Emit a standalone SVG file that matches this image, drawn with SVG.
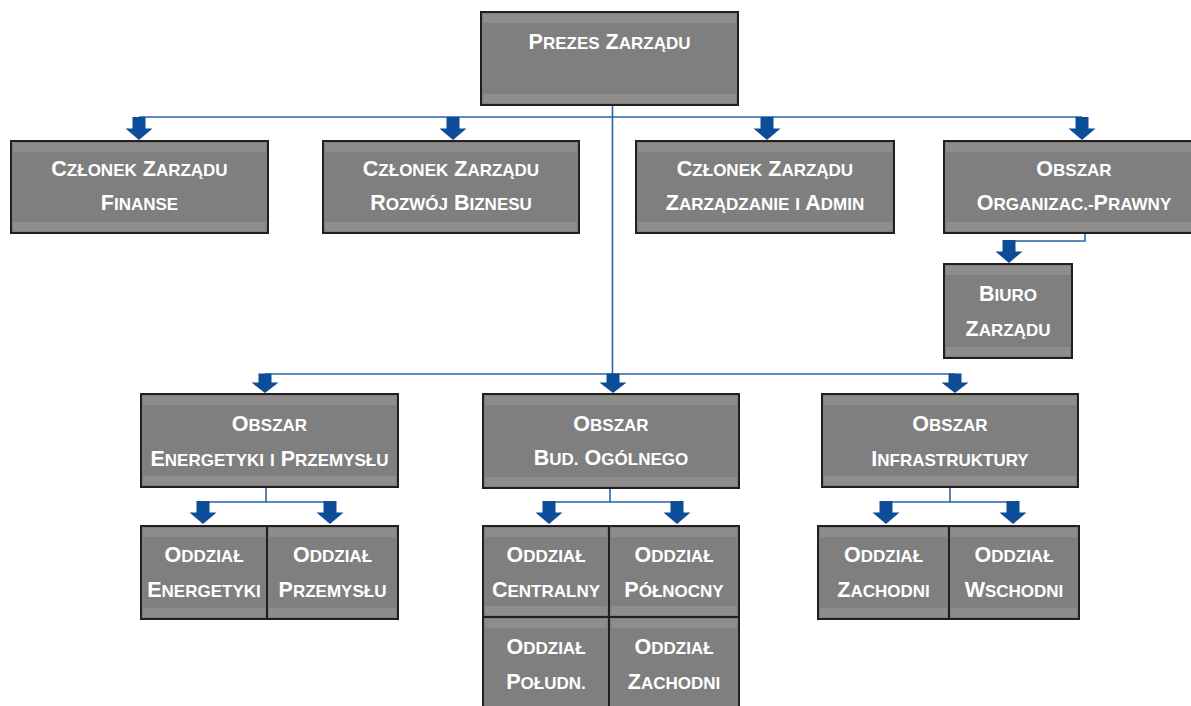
<svg xmlns="http://www.w3.org/2000/svg" width="1191" height="706" viewBox="0 0 1191 706">
<style>
.box{fill:#7f7f80;stroke:#231f20;stroke-width:2}
.band{fill:#8f8c8c}
.t{font-family:"Liberation Sans",Arial,sans-serif;font-weight:bold;fill:#ffffff;text-anchor:middle;font-size:21.5px}
.c{font-size:21.5px}
.s{font-size:17px}
.ln{fill:none;stroke:#2a63a8;stroke-width:1.6}
.ar{fill:#0d4c96}
</style>
<defs>
<path id="arA" class="ar" d="M0,0 L-13.5,-11.5 L-6.5,-11.5 L-6.5,-23 L6.5,-23 L6.5,-11.5 L13.5,-11.5 Z"/>
<path id="arB" class="ar" d="M0,0 L-13.5,-10.5 L-6.5,-10.5 L-6.5,-19.5 L6.5,-19.5 L6.5,-10.5 L13.5,-10.5 Z"/>
</defs>
<rect width="1191" height="706" fill="#ffffff"/>

<g id="connectors">
<path class="ln" d="M612.5,105 V374"/>
<path class="ln" d="M139,117 H1082"/>
<path class="ln" d="M1085,233 V241 H1009"/>
<path class="ln" d="M265,374 H955"/>
<path class="ln" d="M266,487 V502 M203,502 H330"/>
<path class="ln" d="M610,488 V502 M549,502 H677"/>
<path class="ln" d="M950,487 V502 M886,502 H1013"/>
<use href="#arA" x="139" y="140"/>
<use href="#arA" x="453" y="140"/>
<use href="#arA" x="767" y="140"/>
<use href="#arA" x="1082" y="140"/>
<use href="#arA" x="1009" y="263"/>
<use href="#arB" x="265" y="393"/>
<use href="#arB" x="613" y="393"/>
<use href="#arB" x="955" y="393"/>
<use href="#arA" x="203" y="524"/>
<use href="#arA" x="330" y="524"/>
<use href="#arA" x="549" y="524"/>
<use href="#arA" x="677" y="524"/>
<use href="#arA" x="886" y="524"/>
<use href="#arA" x="1013" y="524"/>
</g>

<g id="prezes">
<rect class="box" x="481" y="12" width="257" height="93"/>
<rect class="band" x="483" y="14" width="253" height="9"/>
<rect class="band" x="483" y="94" width="253" height="9"/>
<text class="t" x="609.5" y="49"><tspan class="c">P</tspan><tspan class="s">REZES</tspan> <tspan class="c">Z</tspan><tspan class="s">ARZĄDU</tspan></text>
</g>

<g id="finanse">
<rect class="box" x="11" y="141" width="257" height="92"/>
<rect class="band" x="13" y="143" width="253" height="9"/>
<rect class="band" x="13" y="222" width="253" height="9"/>
<text class="t" x="139.5" y="176"><tspan class="c">C</tspan><tspan class="s">ZŁONEK</tspan> <tspan class="c">Z</tspan><tspan class="s">ARZĄDU</tspan></text>
<text class="t" x="139.5" y="210"><tspan class="c">F</tspan><tspan class="s">INANSE</tspan></text>
</g>

<g id="rozwoj">
<rect class="box" x="323" y="141" width="256" height="92"/>
<rect class="band" x="325" y="143" width="252" height="9"/>
<rect class="band" x="325" y="222" width="252" height="9"/>
<text class="t" x="451" y="176"><tspan class="c">C</tspan><tspan class="s">ZŁONEK</tspan> <tspan class="c">Z</tspan><tspan class="s">ARZĄDU</tspan></text>
<text class="t" x="451" y="210"><tspan class="c">R</tspan><tspan class="s">OZWÓJ</tspan> <tspan class="c">B</tspan><tspan class="s">IZNESU</tspan></text>
</g>

<g id="zarzadzanie">
<rect class="box" x="636" y="141" width="258" height="92"/>
<rect class="band" x="638" y="143" width="254" height="9"/>
<rect class="band" x="638" y="222" width="254" height="9"/>
<text class="t" x="765" y="176"><tspan class="c">C</tspan><tspan class="s">ZŁONEK</tspan> <tspan class="c">Z</tspan><tspan class="s">ARZĄDU</tspan></text>
<text class="t" x="765" y="210"><tspan class="c">Z</tspan><tspan class="s">ARZĄDZANIE</tspan> <tspan class="s">I</tspan> <tspan class="c">A</tspan><tspan class="s">DMIN</tspan></text>
</g>

<g id="organizac">
<rect class="box" x="944" y="141" width="260" height="92"/>
<rect class="band" x="946" y="143" width="256" height="9"/>
<rect class="band" x="946" y="222" width="256" height="9"/>
<text class="t" x="1074" y="176"><tspan class="c">O</tspan><tspan class="s">BSZAR</tspan></text>
<text class="t" x="1074" y="210"><tspan class="c">O</tspan><tspan class="s">RGANIZAC.-</tspan><tspan class="c">P</tspan><tspan class="s">RAWNY</tspan></text>
</g>

<g id="biuro">
<rect class="box" x="944" y="264" width="128" height="94"/>
<rect class="band" x="946" y="266" width="124" height="9"/>
<rect class="band" x="946" y="347" width="124" height="9"/>
<text class="t" x="1008" y="301"><tspan class="c">B</tspan><tspan class="s">IURO</tspan></text>
<text class="t" x="1008" y="336"><tspan class="c">Z</tspan><tspan class="s">ARZĄDU</tspan></text>
</g>

<g id="energetyki-przemyslu">
<rect class="box" x="141" y="394" width="257" height="93"/>
<rect class="band" x="143" y="396" width="253" height="9"/>
<rect class="band" x="143" y="476" width="253" height="9"/>
<text class="t" x="269.5" y="431"><tspan class="c">O</tspan><tspan class="s">BSZAR</tspan></text>
<text class="t" x="269.5" y="466"><tspan class="c">E</tspan><tspan class="s">NERGETYKI</tspan> <tspan class="s">I</tspan> <tspan class="c">P</tspan><tspan class="s">RZEMYSŁU</tspan></text>
</g>

<g id="bud-ogolnego">
<rect class="box" x="483" y="394" width="256" height="94"/>
<rect class="band" x="485" y="396" width="252" height="9"/>
<rect class="band" x="485" y="477" width="252" height="9"/>
<text class="t" x="611" y="431"><tspan class="c">O</tspan><tspan class="s">BSZAR</tspan></text>
<text class="t" x="611" y="465"><tspan class="c">B</tspan><tspan class="s">UD.</tspan> <tspan class="c">O</tspan><tspan class="s">GÓLNEGO</tspan></text>
</g>

<g id="infrastruktury">
<rect class="box" x="822" y="394" width="256" height="93"/>
<rect class="band" x="824" y="396" width="252" height="9"/>
<rect class="band" x="824" y="476" width="252" height="9"/>
<text class="t" x="950" y="431"><tspan class="c">O</tspan><tspan class="s">BSZAR</tspan></text>
<text class="t" x="950" y="466"><tspan class="c">I</tspan><tspan class="s">NFRASTRUKTURY</tspan></text>
</g>

<g id="oddzial-energetyki">
<rect class="box" x="141" y="526" width="126" height="93"/>
<rect class="band" x="143" y="528" width="122" height="9"/>
<rect class="band" x="143" y="608" width="122" height="9"/>
<text class="t" x="204" y="562"><tspan class="c">O</tspan><tspan class="s">DDZIAŁ</tspan></text>
<text class="t" x="204" y="597"><tspan class="c">E</tspan><tspan class="s">NERGETYKI</tspan></text>
</g>

<g id="oddzial-przemyslu">
<rect class="box" x="267" y="526" width="131" height="93"/>
<rect class="band" x="269" y="528" width="127" height="9"/>
<rect class="band" x="269" y="608" width="127" height="9"/>
<text class="t" x="332.5" y="562"><tspan class="c">O</tspan><tspan class="s">DDZIAŁ</tspan></text>
<text class="t" x="332.5" y="597"><tspan class="c">P</tspan><tspan class="s">RZEMYSŁU</tspan></text>
</g>

<g id="oddzial-centralny">
<rect class="box" x="483" y="526" width="126" height="91"/>
<rect class="band" x="485" y="528" width="122" height="9"/>
<rect class="band" x="485" y="606" width="122" height="9"/>
<text class="t" x="546" y="562"><tspan class="c">O</tspan><tspan class="s">DDZIAŁ</tspan></text>
<text class="t" x="546" y="597"><tspan class="c">C</tspan><tspan class="s">ENTRALNY</tspan></text>
</g>

<g id="oddzial-polnocny">
<rect class="box" x="609" y="526" width="130" height="91"/>
<rect class="band" x="611" y="528" width="126" height="9"/>
<rect class="band" x="611" y="606" width="126" height="9"/>
<text class="t" x="674" y="562"><tspan class="c">O</tspan><tspan class="s">DDZIAŁ</tspan></text>
<text class="t" x="674" y="597"><tspan class="c">P</tspan><tspan class="s">ÓŁNOCNY</tspan></text>
</g>

<g id="oddzial-poludn">
<rect class="box" x="483" y="617" width="126" height="96"/>
<rect class="band" x="485" y="619" width="122" height="9"/>
<text class="t" x="546" y="654"><tspan class="c">O</tspan><tspan class="s">DDZIAŁ</tspan></text>
<text class="t" x="546" y="689"><tspan class="c">P</tspan><tspan class="s">OŁUDN.</tspan></text>
</g>

<g id="oddzial-zachodni-bud">
<rect class="box" x="609" y="617" width="130" height="96"/>
<rect class="band" x="611" y="619" width="126" height="9"/>
<text class="t" x="674" y="654"><tspan class="c">O</tspan><tspan class="s">DDZIAŁ</tspan></text>
<text class="t" x="674" y="689"><tspan class="c">Z</tspan><tspan class="s">ACHODNI</tspan></text>
</g>

<g id="oddzial-zachodni">
<rect class="box" x="818" y="526" width="131" height="93"/>
<rect class="band" x="820" y="528" width="127" height="9"/>
<rect class="band" x="820" y="608" width="127" height="9"/>
<text class="t" x="883.5" y="562"><tspan class="c">O</tspan><tspan class="s">DDZIAŁ</tspan></text>
<text class="t" x="883.5" y="597"><tspan class="c">Z</tspan><tspan class="s">ACHODNI</tspan></text>
</g>

<g id="oddzial-wschodni">
<rect class="box" x="949" y="526" width="130" height="93"/>
<rect class="band" x="951" y="528" width="126" height="9"/>
<rect class="band" x="951" y="608" width="126" height="9"/>
<text class="t" x="1014" y="562"><tspan class="c">O</tspan><tspan class="s">DDZIAŁ</tspan></text>
<text class="t" x="1014" y="597"><tspan class="c">W</tspan><tspan class="s">SCHODNI</tspan></text>
</g>
</svg>
